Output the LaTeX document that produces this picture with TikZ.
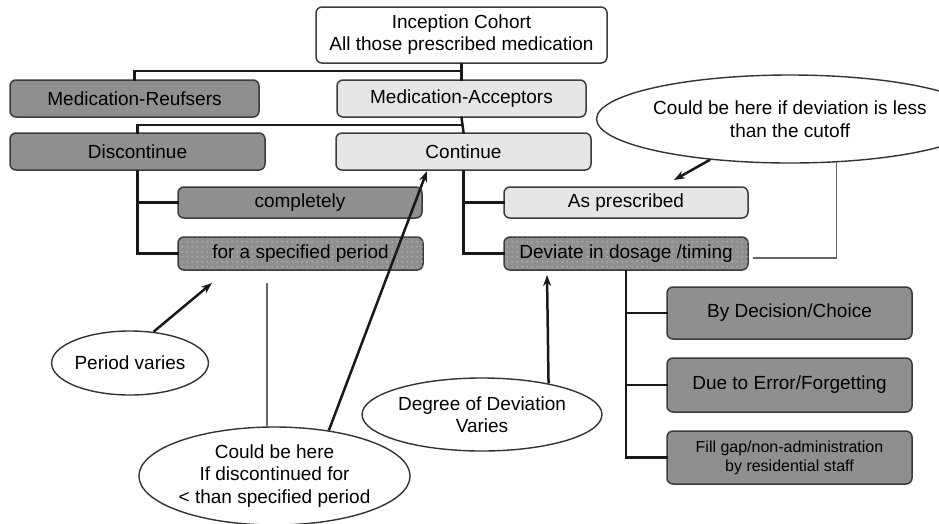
\documentclass[tikz,border=0pt]{standalone}
\usepackage{fontspec}
\setmainfont{Liberation Sans}
\usetikzlibrary{shapes.geometric,arrows.meta,patterns.meta}
\definecolor{dgray}{HTML}{8F8F8F}
\definecolor{lgray}{HTML}{E6E6E6}
\definecolor{bord}{HTML}{3C3C3C}
\definecolor{dotc}{HTML}{CFCFCF}
\tikzdeclarepattern{
  name=wdots,
  type=uncolored,
  bounding box={(0,0) and (5pt,5pt)},
  tile size={(5pt,5pt)},
  code={\fill (2.5pt,2.5pt) circle (0.8pt);}
}
\tikzset{
  box/.style={draw=bord, line width=1.5pt, rounded corners=6pt, inner sep=0pt, align=center,
    font=\fontsize{19}{22}\selectfont, text=black},
  darkbox/.style={box, fill=dgray},
  lightbox/.style={box, fill=lgray},
  dotbox/.style={box, fill=dgray, postaction={pattern=wdots, pattern color=dotc}},
  conn/.style={line width=2.5pt, black!90, line cap=rect},
  gline/.style={line width=1.4pt, black!60},
  oval/.style={draw=black!80, line width=1.4pt, ellipse, inner sep=0pt, align=center,
    font=\fontsize{19}{22.5}\selectfont, text=black},
  arr/.style={line width=2.5pt, black!90, -{Stealth[length=11pt,width=8pt]}},
}
\begin{document}
\begin{tikzpicture}[x=1pt,y=-1pt]
\useasboundingbox (0,0) rectangle (939,523);
% boxes
\node[box, fill=white, minimum width=291pt, minimum height=56pt] (top) at (461.5,35) {Inception Cohort\\All those prescribed medication};
\node[darkbox, minimum width=249pt, minimum height=37pt] (ref) at (134.5,98.5) {Medication-Reufsers};
\node[lightbox, minimum width=249pt, minimum height=37pt] (acc) at (461.5,98.5) {Medication-Acceptors};
\node[darkbox, minimum width=255pt, minimum height=37pt] (disc) at (137.5,151.5) {Discontinue};
\node[lightbox, minimum width=255pt, minimum height=37pt] (cont) at (463.5,151.5) {Continue};
\node[darkbox, minimum width=244pt, minimum height=31pt] (comp) at (300,202.5) {completely};
\node[dotbox, minimum width=245pt, minimum height=33pt] (spec) at (300.5,253.5) {for a specified period};
\node[lightbox, minimum width=244pt, minimum height=31pt] (asp) at (626,202.5) {As prescribed};
\node[dotbox, minimum width=244pt, minimum height=33pt] (dev) at (626,253.5) {Deviate in dosage /timing};
\node[darkbox, minimum width=245pt, minimum height=52pt] (dec) at (789.5,313) {By Decision/Choice};
\node[darkbox, minimum width=245pt, minimum height=54pt] (err) at (789.5,385) {Due to Error/Forgetting};
\node[darkbox, minimum width=245pt, minimum height=53pt, font=\fontsize{16}{19}\selectfont] (fil) at (789.5,457.5) {Fill gap/non-administration\\by residential staff};
% junctions
\coordinate (j1) at (461.5,71);
\coordinate (j2) at (461.5,125);
% tree connectors
\draw[conn] (top.south) -- (acc.north);
\draw[conn] (ref.north) |- (j1);
\draw[conn] (acc.south) -- (cont.north);
\draw[conn] (disc.north) |- (j2);
\draw[conn] (disc.south) |- (comp.west);
\draw[conn] (disc.south) |- (spec.west);
\draw[conn] (cont.south) |- (asp.west);
\draw[conn] (cont.south) |- (dev.west);
\draw[conn] (dev.south) |- (dec.west);
\draw[conn] (dev.south) |- (err.west);
\draw[conn] (dev.south) |- (fil.west);
% ovals
\node[oval, fill=white, minimum width=296pt, minimum height=88pt] (e1) at (790,119) {Could be here if deviation is less\\than the cutoff};
\node[oval, minimum width=144pt, minimum height=64pt] (e2) at (130,363) {Period varies};
\node[oval, minimum width=243pt, minimum height=98pt] (e3) at (274.5,476) {Could be here\\If discontinued for\\< than specified period};
\node[oval, minimum width=240pt, minimum height=73pt] (e4) at (482,414.5) {Degree of Deviation\\Varies};
% free ends
\coordinate (t1) at (674,180);
\coordinate (t2) at (212,283);
\coordinate (t3) at (427,171);
\coordinate (t4) at (547,275);
\coordinate (gend) at (753,258);
\coordinate (vt) at (267,283);
% annotation connectors
\draw[arr] (e1.207) -- (t1);
\draw[gline] (e1.317.7) |- (gend);
\draw[arr] (e2.53) -- (t2);
\draw[gline] (vt) -- (vt |- e3.north);
\draw[arr] (e3.40) -- (t3);
\draw[arr] (e4.25) -- (t4);
\end{tikzpicture}
\end{document}
